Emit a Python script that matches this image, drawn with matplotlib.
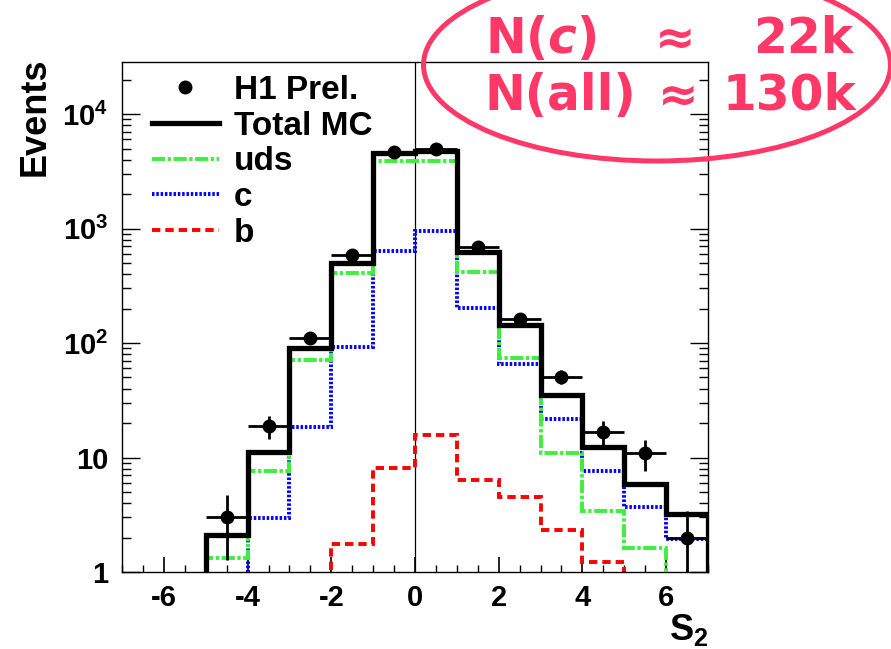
import numpy as np
import matplotlib
matplotlib.use("Agg")
import matplotlib.pyplot as plt
from matplotlib.lines import Line2D
from matplotlib.patches import Ellipse
from matplotlib.ticker import FixedLocator, FixedFormatter, MultipleLocator

plt.rcParams['font.family'] = ['Liberation Sans', 'DejaVu Sans']
plt.rcParams['font.weight'] = 'bold'
plt.rcParams['mathtext.fontset'] = 'custom'
plt.rcParams['mathtext.rm'] = 'Liberation Sans:bold'
plt.rcParams['mathtext.bf'] = 'Liberation Sans:bold'
plt.rcParams['mathtext.it'] = 'DejaVu Sans:bold:italic'
plt.rcParams['lines.scale_dashes'] = False
plt.rcParams['axes.unicode_minus'] = False

# bin edges of S2
edges = np.arange(-7, 8, 1)

# histogram contents (0 = empty / below 1)
total_mc = [0, 0, 2.1, 11.2, 90, 500, 4560, 4800, 623, 144, 35, 12.4, 5.9, 3.2]
uds = [0, 0, 1.33, 7.7, 71, 408, 3890, 3900, 417, 74, 10.9, 3.4, 1.63, 0]
charm = [0, 0, 0, 2.98, 18.6, 92, 636, 950, 202, 65, 21.7, 7.7, 3.67, 1.93]
bottom = [0, 0, 0, 0, 0, 1.76, 8.1, 15.7, 6.4, 4.55, 2.33, 1.22, 0, 0]

# H1 preliminary data points
data_x = [-4.5, -3.5, -2.5, -1.5, -0.5, 0.5, 1.5, 2.5, 3.5, 4.5, 5.5, 6.5]
data_y = [3.0, 18.8, 110, 587, 4660, 4950, 690, 161, 50.8, 16.8, 10.9, 2.0]
data_err = [1.73, 4.3, 10.5, 24.2, 68, 70, 26.3, 12.7, 7.1, 4.1, 3.3, 1.4]

ylim = (1, 2.85e4)
pink = '#ff3868'
green_ls = (0, (9.5, 1.8, 2.4, 1.8))
blue_ls = (0, (1.8, 1.3))
red_ls = (0, (6, 3.6))

fig = plt.figure(figsize=(8.91, 6.49), dpi=100)
ax = fig.add_axes([122 / 891, 1 - 572 / 649, 586 / 891, 510 / 649])
ax.set_yscale('log', nonpositive='clip')
ax.set_xlim(-7, 7)
ax.set_ylim(*ylim)

ax.axvline(0, color='black', lw=0.9, zorder=1)

ax.stairs(bottom, edges, baseline=1e-3, color='#ff0000', lw=2.8,
          linestyle=red_ls, zorder=2)
ax.stairs(charm, edges, baseline=1e-3, color='#0000ff', lw=2.8,
          linestyle=blue_ls, zorder=3)
ax.stairs(uds, edges, baseline=1e-3, color='#3cf03c', lw=2.8,
          linestyle=green_ls, zorder=4)
ax.stairs(total_mc, edges, baseline=1e-3, color='black', lw=3.8, zorder=5)

ax.errorbar(data_x, data_y, yerr=data_err, xerr=0.5, fmt='o', color='black',
            markersize=9, elinewidth=2.0, capsize=0, zorder=6)

# ticks
ax.xaxis.set_major_locator(MultipleLocator(2))
ax.xaxis.set_minor_locator(MultipleLocator(0.5))
ax.yaxis.set_major_locator(FixedLocator([1, 10, 100, 1000, 10000]))
ax.yaxis.set_major_formatter(FixedFormatter(['1', '10', r'$10^{2}$', r'$10^{3}$', r'$10^{4}$']))
ax.tick_params(axis='x', which='major', direction='in', length=11, width=1.2,
               labelsize=21, pad=9, top=False)
ax.tick_params(axis='x', which='minor', direction='in', length=4.8, width=1.0, top=False)
ax.tick_params(axis='y', which='major', direction='in', length=13, width=1.0,
               labelsize=21, pad=10, right=True)
ax.tick_params(axis='y', which='minor', direction='in', length=6.5, width=1.0, right=True)
for lab in ax.get_xticklabels() + ax.get_yticklabels():
    lab.set_fontweight('bold')
for sp in ax.spines.values():
    sp.set_linewidth(1.0)

fig.text(35 / 891, 1 - 117 / 649, 'Events', rotation=90, fontsize=26,
         fontweight='bold', ha='center', va='center')
ax.text(1.0, -0.078, r'$\mathrm{S}_{2}$', transform=ax.transAxes, fontsize=26,
        ha='right', va='top')

handles = [
    Line2D([], [], marker='o', color='black', linestyle='none', markersize=9),
    Line2D([], [], color='black', lw=3.8),
    Line2D([], [], color='#3cf03c', lw=2.8, linestyle=green_ls),
    Line2D([], [], color='#0000ff', lw=2.8, linestyle=blue_ls),
    Line2D([], [], color='#ff0000', lw=2.8, linestyle=red_ls),
]
labels = ['H1 Prel.', 'Total MC', 'uds', 'c', 'b']
ax.legend(handles, labels, loc='upper left', bbox_to_anchor=(30 / 586, 1 - 13 / 510),
          frameon=False, handlelength=2.0, handletextpad=0.45,
          labelspacing=0.14, borderpad=0, borderaxespad=0,
          prop={'weight': 'bold', 'size': 24})

# pink annotation
ell = Ellipse((657 / 891, 1 - 65 / 649), 467 / 891, 192 / 649, transform=fig.transFigure,
              fill=False, edgecolor=pink, lw=3.6, clip_on=False)
fig.add_artist(ell)
tkw = dict(color=pink, fontsize=35, fontweight='bold', family='DejaVu Sans',
           va='baseline')
fig.text(485 / 891, 1 - 53 / 649, r'N($\mathit{c}$)', ha='left', **tkw)
fig.text(655 / 891, 1 - 53 / 649, '\u2248', ha='left', **tkw)
fig.text(853 / 891, 1 - 53 / 649, '22k', ha='right', **tkw)
fig.text(485 / 891, 1 - 110 / 649, 'N(all)', ha='left', **tkw)
fig.text(658 / 891, 1 - 110 / 649, '\u2248', ha='left', **tkw)
fig.text(856 / 891, 1 - 110 / 649, '130k', ha='right', **tkw)

fig.savefig('out.png', dpi=100)
